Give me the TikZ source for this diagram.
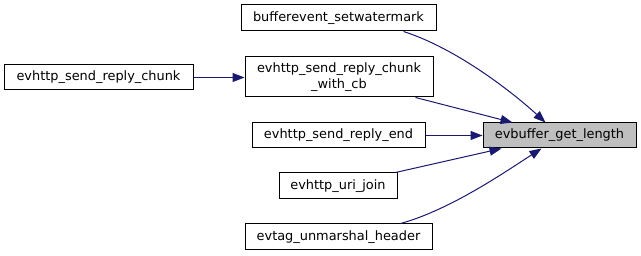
\documentclass[tikz,border=0pt]{standalone}
\usepackage{fontspec}
\setmainfont{DejaVu Sans}
\usetikzlibrary{arrows.meta,calc}
\begin{document}
\begin{tikzpicture}[x=1pt,y=-1pt,
  fn/.style={draw=black,line width=1pt,fill=white,inner sep=0pt,minimum height=26pt,font=\fontsize{12.9}{15.5}\selectfont,align=center},
  edge/.style={draw={rgb,255:red,25;green,25;blue,112},line width=1pt,-{Triangle[length=12pt,width=9pt]}}
]
\useasboundingbox (0,0) rectangle (641,256);
\node[fn,minimum width=195pt] (bw) at (338.5,18) {bufferevent\_setwatermark};
\node[fn,minimum width=189pt,minimum height=25pt] (chunk) at (98.5,77.5) {evhttp\_send\_reply\_chunk};
\node[fn,minimum width=188pt,minimum height=40pt] (cb) at (339,77) {evhttp\_send\_reply\_chunk\\\_with\_cb};
\node[fn,minimum width=173pt,minimum height=25pt] (end) at (338.5,135.5) {evhttp\_send\_reply\_end};
\node[fn,minimum width=153pt,minimum height=25pt,fill={rgb,255:red,191;green,191;blue,191}] (main) at (559.5,135.5) {evbuffer\_get\_length};
\node[fn,minimum width=118pt] (uri) at (338,186) {evhttp\_uri\_join};
\node[fn,minimum width=187pt] (tag) at (338.5,237) {evtag\_unmarshal\_header};

\draw[edge] (chunk.east) -- (cb.west |- chunk.east);
\draw[edge] ([xshift=-33pt]bw.south east) .. controls (455,48) and (510,90) .. ([xshift=-14pt]main.north);
\draw[edge] ([xshift=-18pt]cb.south east) -- ([xshift=-47pt]main.north);
\draw[edge] (end.east) -- (main.west);
\draw[edge] ([xshift=-2pt]uri.north east) -- ([xshift=-58pt]main.south);
\draw[edge] ([xshift=-32pt]tag.north east) .. controls (450,210) and (505,172) .. ([xshift=-18pt]main.south);
\end{tikzpicture}
\end{document}
